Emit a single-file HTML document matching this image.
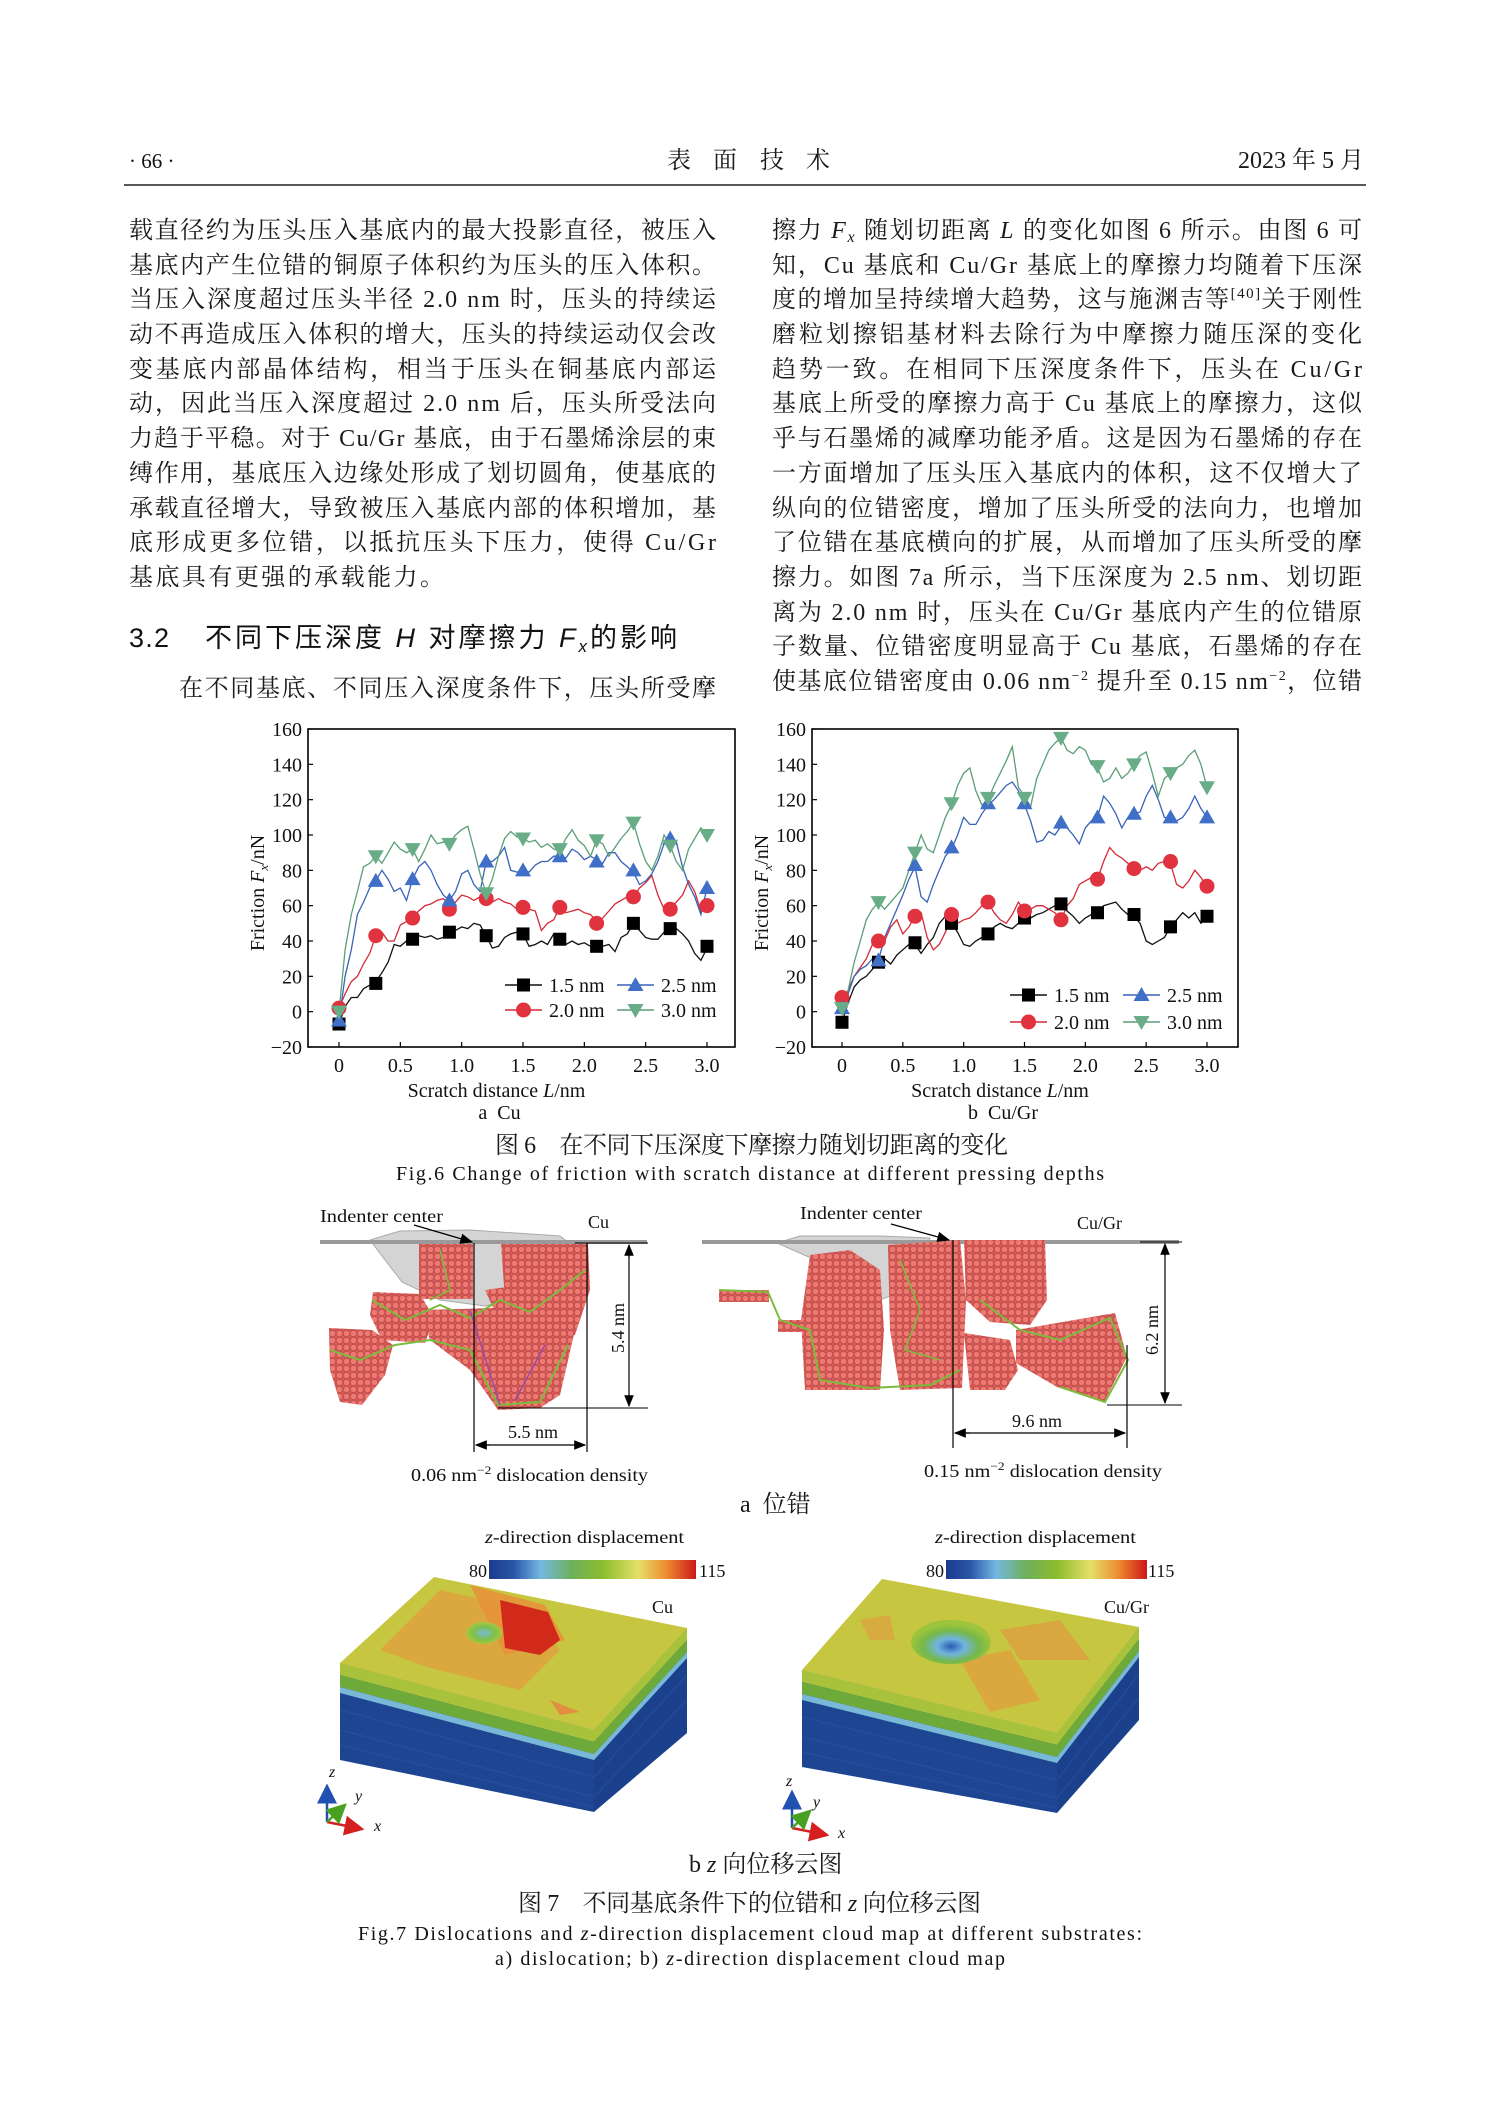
<!DOCTYPE html>
<html><head><meta charset="utf-8">
<style>
html,body{margin:0;padding:0;background:#fff;}
svg{display:block;}
.cn{font-family:"Liberation Serif","Noto Serif CJK SC",serif;font-size:24px;fill:#1a1a1a;}
.en{font-family:"Liberation Serif",serif;fill:#111;}
.hd{font-family:"Liberation Sans","Noto Sans CJK SC",sans-serif;font-size:27px;fill:#111;}
</style></head>
<body>
<svg id="page" width="1489" height="2106" viewBox="0 0 1489 2106" xmlns="http://www.w3.org/2000/svg">
<defs>
<pattern id="atoms" width="7" height="7" patternUnits="userSpaceOnUse">
<rect width="7" height="7" fill="#d65a56"/>
<circle cx="3.5" cy="3.5" r="3.2" fill="#ec7a72" stroke="#b84444" stroke-width="0.6"/>
</pattern>
<linearGradient id="cbar" x1="0" x2="1" y1="0" y2="0">
<stop offset="0" stop-color="#1c3a8e"/><stop offset="0.12" stop-color="#2a56a8"/>
<stop offset="0.25" stop-color="#74b8e2"/><stop offset="0.4" stop-color="#6eb05a"/>
<stop offset="0.55" stop-color="#8cbc2c"/><stop offset="0.72" stop-color="#e4e068"/>
<stop offset="0.86" stop-color="#ee8a30"/><stop offset="1" stop-color="#cc1818"/>
</linearGradient>
<radialGradient id="holeL" cx="0.5" cy="0.5" r="0.5"><stop offset="0" stop-color="#7ab8d8"/><stop offset="0.6" stop-color="#7cc04a"/><stop offset="1" stop-color="#a8c840"/></radialGradient>
<radialGradient id="holeR" cx="0.5" cy="0.6" r="0.5"><stop offset="0" stop-color="#2a5cb0"/><stop offset="0.35" stop-color="#70b4e0"/><stop offset="0.7" stop-color="#74b84a"/><stop offset="1" stop-color="#9cc43c"/></radialGradient>
<marker id="arr" markerWidth="10" markerHeight="10" refX="9" refY="5" orient="auto"><path d="M0,1 L10,5 L0,9 z" fill="#000"/></marker>
<marker id="arrR" markerWidth="8" markerHeight="8" refX="7" refY="4" orient="auto"><path d="M0,0 L8,4 L0,8 z" fill="#d42020"/></marker>
<marker id="arrB" markerWidth="8" markerHeight="8" refX="7" refY="4" orient="auto"><path d="M0,0 L8,4 L0,8 z" fill="#2050b0"/></marker>
<marker id="arrG" markerWidth="8" markerHeight="8" refX="7" refY="4" orient="auto"><path d="M0,0 L8,4 L0,8 z" fill="#48a020"/></marker>
</defs>
<rect width="1489" height="2106" fill="#fff"/>

<g>
<text class="en" x="129" y="168" font-size="21">· 66 ·</text>
<text class="cn" x="667" y="168" font-size="22"><tspan x="667">表</tspan><tspan x="713">面</tspan><tspan x="760">技</tspan><tspan x="806">术</tspan></text>
<text class="cn" x="1364" y="168" font-size="22" text-anchor="end">2023 年 5 月</text>
<line x1="124" y1="185" x2="1366" y2="185" stroke="#222" stroke-width="1.5"/>
</g>

<g>
<text class="cn" x="129" y="238" textLength="587" lengthAdjust="spacing">载直径约为压头压入基底内的最大投影直径，被压入</text>
<text class="cn" x="129" y="273" textLength="587" lengthAdjust="spacing">基底内产生位错的铜原子体积约为压头的压入体积。</text>
<text class="cn" x="129" y="307" textLength="587" lengthAdjust="spacing">当压入深度超过压头半径 2.0 nm 时，压头的持续运</text>
<text class="cn" x="129" y="342" textLength="587" lengthAdjust="spacing">动不再造成压入体积的增大，压头的持续运动仅会改</text>
<text class="cn" x="129" y="377" textLength="587" lengthAdjust="spacing">变基底内部晶体结构，相当于压头在铜基底内部运</text>
<text class="cn" x="129" y="411" textLength="587" lengthAdjust="spacing">动，因此当压入深度超过 2.0 nm 后，压头所受法向</text>
<text class="cn" x="129" y="446" textLength="587" lengthAdjust="spacing">力趋于平稳。对于 Cu/Gr 基底，由于石墨烯涂层的束</text>
<text class="cn" x="129" y="481" textLength="587" lengthAdjust="spacing">缚作用，基底压入边缘处形成了划切圆角，使基底的</text>
<text class="cn" x="129" y="516" textLength="587" lengthAdjust="spacing">承载直径增大，导致被压入基底内部的体积增加，基</text>
<text class="cn" x="129" y="550" textLength="587" lengthAdjust="spacing">底形成更多位错，以抵抗压头下压力，使得 Cu/Gr</text>
<text class="cn" x="129" y="585" textLength="315" lengthAdjust="spacing">基底具有更强的承载能力。</text>
<text class="hd" x="129" y="647" textLength="40" lengthAdjust="spacing">3.2</text>
<text class="hd" x="205" y="647" textLength="472" lengthAdjust="spacing">不同下压深度 <tspan font-style="italic">H</tspan> 对摩擦力 <tspan font-style="italic">F</tspan><tspan font-style="italic" font-size="17" dy="5">x</tspan><tspan dy="-5">的影响</tspan></text>
<text class="cn" x="179" y="696" textLength="537" lengthAdjust="spacing">在不同基底、不同压入深度条件下，压头所受摩</text>
</g>

<g>
<text class="cn" x="772" y="238" textLength="590" lengthAdjust="spacing">擦力 <tspan font-style="italic">F</tspan><tspan font-style="italic" font-size="16" dy="4">x</tspan><tspan dy="-4"> 随划切距离 </tspan><tspan font-style="italic">L</tspan> 的变化如图 6 所示。由图 6 可</text>
<text class="cn" x="772" y="273" textLength="590" lengthAdjust="spacing">知，Cu 基底和 Cu/Gr 基底上的摩擦力均随着下压深</text>
<text class="cn" x="772" y="307" textLength="590" lengthAdjust="spacing">度的增加呈持续增大趋势，这与施渊吉等<tspan font-size="15" dy="-9">[40]</tspan><tspan dy="9">关于刚性</tspan></text>
<text class="cn" x="772" y="342" textLength="590" lengthAdjust="spacing">磨粒划擦铝基材料去除行为中摩擦力随压深的变化</text>
<text class="cn" x="772" y="377" textLength="590" lengthAdjust="spacing">趋势一致。在相同下压深度条件下，压头在 Cu/Gr</text>
<text class="cn" x="772" y="411" textLength="590" lengthAdjust="spacing">基底上所受的摩擦力高于 Cu 基底上的摩擦力，这似</text>
<text class="cn" x="772" y="446" textLength="590" lengthAdjust="spacing">乎与石墨烯的减摩功能矛盾。这是因为石墨烯的存在</text>
<text class="cn" x="772" y="481" textLength="590" lengthAdjust="spacing">一方面增加了压头压入基底内的体积，这不仅增大了</text>
<text class="cn" x="772" y="516" textLength="590" lengthAdjust="spacing">纵向的位错密度，增加了压头所受的法向力，也增加</text>
<text class="cn" x="772" y="550" textLength="590" lengthAdjust="spacing">了位错在基底横向的扩展，从而增加了压头所受的摩</text>
<text class="cn" x="772" y="585" textLength="590" lengthAdjust="spacing">擦力。如图 7a 所示，当下压深度为 2.5 nm、划切距</text>
<text class="cn" x="772" y="620" textLength="590" lengthAdjust="spacing">离为 2.0 nm 时，压头在 Cu/Gr 基底内产生的位错原</text>
<text class="cn" x="772" y="654" textLength="590" lengthAdjust="spacing">子数量、位错密度明显高于 Cu 基底，石墨烯的存在</text>
<text class="cn" x="772" y="689" textLength="590" lengthAdjust="spacing">使基底位错密度由 0.06 nm<tspan font-size="14" dy="-9">−2</tspan><tspan dy="9"> 提升至 0.15 nm</tspan><tspan font-size="14" dy="-9">−2</tspan><tspan dy="9">，位错</tspan></text>
</g>

<g id="chartA"></g>
<g id="chartB"></g>

<text class="cn" x="495" y="1153" font-size="22" textLength="513" lengthAdjust="spacing">图 6　在不同下压深度下摩擦力随划切距离的变化</text>
<text class="en" x="396" y="1180" font-size="20" textLength="708" lengthAdjust="spacing">Fig.6 Change of friction with scratch distance at different pressing depths</text>

<g>
<polygon points="370,1240 400,1231 470,1230 560,1236 578,1250 545,1290 485,1306 440,1300 402,1282 382,1256" fill="#d4d4d4" stroke="#aaa" stroke-width="1"/>
<rect x="320" y="1240" width="327" height="4" fill="#9a9a9a"/>
<rect x="419" y="1244" width="54" height="55" fill="url(#atoms)"/>
<polygon points="501,1244 588,1244 590,1290 575,1335 530,1330 505,1300" fill="url(#atoms)"/>
<polygon points="422,1310 568,1306 575,1330 560,1395 540,1408 498,1410 470,1370 430,1340" fill="url(#atoms)"/>
<polygon points="373,1292 420,1294 434,1318 425,1343 382,1340 370,1315" fill="url(#atoms)"/>
<polygon points="329,1328 372,1330 393,1345 385,1375 362,1405 340,1402 330,1370" fill="url(#atoms)"/>
<polygon points="485,1290 515,1286 520,1305 495,1312" fill="url(#atoms)"/>
<polyline points="372,1300 405,1320 440,1305 470,1318 500,1300 530,1312 560,1290 585,1270" fill="none" stroke="#7cba3c" stroke-width="2"/>
<polyline points="330,1350 360,1360 395,1345 430,1340 470,1350 498,1405 540,1402 568,1345" fill="none" stroke="#7cba3c" stroke-width="2"/>
<polyline points="440,1250 450,1290 430,1300" fill="none" stroke="#7cba3c" stroke-width="1.6"/>
<line x1="470" y1="1310" x2="500" y2="1405" stroke="#9a4aa8" stroke-width="1.5"/>
<line x1="545" y1="1345" x2="515" y2="1400" stroke="#9a4aa8" stroke-width="1.5"/>
<line x1="414" y1="1225" x2="472" y2="1242" stroke="#000" stroke-width="1.3" marker-end="url(#arr)"/>
<line x1="474" y1="1243" x2="474" y2="1452" stroke="#000" stroke-width="1.2"/>
<line x1="587" y1="1243" x2="587" y2="1452" stroke="#000" stroke-width="1.2"/>
<line x1="575" y1="1243" x2="648" y2="1243" stroke="#000" stroke-width="1"/>
<line x1="498" y1="1408" x2="648" y2="1408" stroke="#000" stroke-width="1"/>
<line x1="629" y1="1258" x2="629" y2="1245" stroke="#000" stroke-width="1.2" marker-end="url(#arr)"/>
<line x1="629" y1="1255" x2="629" y2="1406" stroke="#000" stroke-width="1.2" marker-end="url(#arr)"/>
<line x1="490" y1="1445" x2="476" y2="1445" stroke="#000" stroke-width="1.2" marker-end="url(#arr)"/>
<line x1="485" y1="1445" x2="585" y2="1445" stroke="#000" stroke-width="1.2" marker-end="url(#arr)"/>
<text class="en" x="320" y="1222" font-size="18" textLength="123" lengthAdjust="spacingAndGlyphs">Indenter center</text>
<text class="en" x="588" y="1228" font-size="18">Cu</text>
<text class="en" x="533" y="1438" font-size="18" text-anchor="middle">5.5 nm</text>
<text class="en" x="0" y="0" font-size="18" text-anchor="middle" transform="translate(624,1328) rotate(-90)">5.4 nm</text>
<text class="en" x="411" y="1481" font-size="18" textLength="237" lengthAdjust="spacingAndGlyphs">0.06 nm<tspan font-size="12" dy="-7">−2</tspan><tspan dy="7"> dislocation density</tspan></text>
</g>

<g>
<polygon points="777,1243 800,1236 880,1236 930,1238 920,1262 905,1290 880,1300 850,1280 820,1262" fill="#d4d4d4" stroke="#aaa" stroke-width="1"/>
<rect x="702" y="1240" width="477" height="4" fill="#9a9a9a"/>
<rect x="719" y="1290" width="50" height="12" fill="url(#atoms)"/>
<rect x="778" y="1320" width="29" height="12" fill="url(#atoms)"/>
<polygon points="810,1255 850,1250 880,1270 884,1330 880,1390 805,1390 801,1320" fill="url(#atoms)"/>
<polygon points="888,1245 960,1240 966,1300 962,1388 900,1390 890,1330" fill="url(#atoms)"/>
<polygon points="964,1240 1045,1240 1047,1300 1030,1325 990,1322 966,1300" fill="url(#atoms)"/>
<polygon points="1016,1330 1115,1313 1127,1357 1104,1402 1057,1387 1016,1363" fill="url(#atoms)"/>
<polygon points="964,1333 1010,1340 1018,1370 1005,1390 970,1390" fill="url(#atoms)"/>
<polyline points="719,1290 768,1292 780,1320 810,1330 820,1380 870,1388 930,1385 960,1370" fill="none" stroke="#7cba3c" stroke-width="2"/>
<polyline points="980,1300 1020,1330 1060,1340 1110,1318 1128,1360 1105,1402 1060,1387" fill="none" stroke="#7cba3c" stroke-width="2"/>
<polyline points="900,1260 920,1310 905,1350 940,1360" fill="none" stroke="#7cba3c" stroke-width="1.6"/>
<line x1="891" y1="1224" x2="949" y2="1240" stroke="#000" stroke-width="1.3" marker-end="url(#arr)"/>
<line x1="953" y1="1240" x2="953" y2="1448" stroke="#000" stroke-width="1.2"/>
<line x1="1127" y1="1345" x2="1127" y2="1448" stroke="#000" stroke-width="1.2"/>
<line x1="1140" y1="1242" x2="1182" y2="1242" stroke="#000" stroke-width="1"/>
<line x1="1107" y1="1405" x2="1182" y2="1405" stroke="#000" stroke-width="1"/>
<line x1="1165" y1="1256" x2="1165" y2="1244" stroke="#000" stroke-width="1.2" marker-end="url(#arr)"/>
<line x1="1165" y1="1254" x2="1165" y2="1403" stroke="#000" stroke-width="1.2" marker-end="url(#arr)"/>
<line x1="970" y1="1433" x2="955" y2="1433" stroke="#000" stroke-width="1.2" marker-end="url(#arr)"/>
<line x1="965" y1="1433" x2="1125" y2="1433" stroke="#000" stroke-width="1.2" marker-end="url(#arr)"/>
<text class="en" x="800" y="1219" font-size="18" textLength="122" lengthAdjust="spacingAndGlyphs">Indenter center</text>
<text class="en" x="1077" y="1229" font-size="18">Cu/Gr</text>
<text class="en" x="1037" y="1427" font-size="18" text-anchor="middle">9.6 nm</text>
<text class="en" x="0" y="0" font-size="18" text-anchor="middle" transform="translate(1158,1330) rotate(-90)">6.2 nm</text>
<text class="en" x="924" y="1477" font-size="18" textLength="238" lengthAdjust="spacingAndGlyphs">0.15 nm<tspan font-size="12" dy="-7">−2</tspan><tspan dy="7"> dislocation density</tspan></text>
</g>
<text class="cn" x="740" y="1512" font-size="19">a&#160;&#160;位错</text>

<g>
<text class="en" x="485" y="1543" font-size="18" textLength="199" lengthAdjust="spacingAndGlyphs"><tspan font-style="italic">z</tspan>-direction displacement</text>
<rect x="489" y="1560" width="207" height="19" fill="url(#cbar)"/>
<text class="en" x="487" y="1577" font-size="18" text-anchor="end">80</text>
<text class="en" x="699" y="1577" font-size="18">115</text>
</g>
<g>
<text class="en" x="935" y="1543" font-size="18" textLength="201" lengthAdjust="spacingAndGlyphs"><tspan font-style="italic">z</tspan>-direction displacement</text>
<rect x="946" y="1560" width="201" height="19" fill="url(#cbar)"/>
<text class="en" x="944" y="1577" font-size="18" text-anchor="end">80</text>
<text class="en" x="1148" y="1577" font-size="18">115</text>
</g>

<g>
<polygon points="340,1663 594,1730 594,1812 340,1760" fill="#1e4592"/>
<polygon points="594,1730 687,1628 687,1733 594,1812" fill="#1c418c"/>
<g stroke="#2a58a8" stroke-width="1" opacity="0.6">
<line x1="340" y1="1710" x2="594" y2="1777"/><line x1="340" y1="1730" x2="594" y2="1797"/><line x1="340" y1="1745" x2="594" y2="1807"/>
<line x1="594" y1="1777" x2="687" y2="1675"/><line x1="594" y1="1797" x2="687" y2="1700"/>
</g>
<polygon points="340,1663 594,1730 687,1628 687,1640 594,1742 340,1675" fill="#a8c23c"/>
<polygon points="340,1675 594,1742 687,1640 687,1652 594,1754 340,1687" fill="#6eaa3a"/>
<polygon points="340,1687 594,1754 687,1652 687,1658 594,1760 340,1693" fill="#7ab8d8"/>
<polygon points="434,1577 687,1628 594,1730 340,1663" fill="#c6c640"/>
<polygon points="440,1590 530,1610 560,1650 520,1690 430,1668 380,1650" fill="#e0a040" opacity="0.8"/>
<polygon points="470,1585 545,1605 565,1640 505,1655" fill="#e89038" opacity="0.85"/>
<polygon points="500,1600 548,1612 560,1640 540,1655 505,1648" fill="#d22a1a"/>
<ellipse cx="484" cy="1633" rx="18" ry="11" fill="url(#holeL)"/>
<polygon points="550,1700 580,1712 560,1715" fill="#e09040"/>
<text class="en" x="652" y="1613" font-size="18">Cu</text>
</g>
<g>
<polygon points="802,1670 1057,1733 1057,1813 802,1767" fill="#1e4592"/>
<polygon points="1057,1733 1139,1627 1139,1720 1057,1813" fill="#1c418c"/>
<g stroke="#2a58a8" stroke-width="1" opacity="0.6">
<line x1="802" y1="1717" x2="1057" y2="1780"/><line x1="802" y1="1737" x2="1057" y2="1798"/><line x1="802" y1="1752" x2="1057" y2="1808"/>
<line x1="1057" y1="1780" x2="1139" y2="1674"/><line x1="1057" y1="1798" x2="1139" y2="1697"/>
</g>
<polygon points="802,1670 1057,1733 1139,1627 1139,1639 1057,1745 802,1682" fill="#a8c23c"/>
<polygon points="802,1682 1057,1745 1139,1639 1139,1651 1057,1757 802,1694" fill="#6eaa3a"/>
<polygon points="802,1694 1057,1757 1139,1651 1139,1657 1057,1763 802,1700" fill="#7ab8d8"/>
<polygon points="882,1579 1139,1627 1057,1733 802,1670" fill="#c6c640"/>
<polygon points="960,1660 1010,1650 1040,1700 990,1712" fill="#e0a040" opacity="0.8"/>
<polygon points="1000,1630 1060,1620 1090,1660 1020,1660" fill="#e09a40" opacity="0.7"/>
<polygon points="860,1620 890,1615 895,1640 870,1640" fill="#e0a040" opacity="0.7"/>
<ellipse cx="951" cy="1642" rx="40" ry="22" fill="url(#holeR)"/>
<text class="en" x="1104" y="1613" font-size="18">Cu/Gr</text>
</g>
<g>
<line x1="327" y1="1822" x2="327" y2="1786" stroke="#2050b0" stroke-width="2.5" marker-end="url(#arrB)"/>
<line x1="327" y1="1822" x2="362" y2="1829" stroke="#d42020" stroke-width="2.5" marker-end="url(#arrR)"/>
<line x1="327" y1="1822" x2="345" y2="1805" stroke="#48a020" stroke-width="2.5" marker-end="url(#arrG)"/>
<text class="en" x="329" y="1777" font-size="16" font-style="italic" fill="#2050b0">z</text>
<text class="en" x="355" y="1801" font-size="16" font-style="italic" fill="#48a020">y</text>
<text class="en" x="374" y="1831" font-size="16" font-style="italic" fill="#d42020">x</text>
</g>
<g>
<line x1="792" y1="1828" x2="792" y2="1792" stroke="#2050b0" stroke-width="2.5" marker-end="url(#arrB)"/>
<line x1="792" y1="1828" x2="827" y2="1835" stroke="#d42020" stroke-width="2.5" marker-end="url(#arrR)"/>
<line x1="792" y1="1828" x2="810" y2="1811" stroke="#48a020" stroke-width="2.5" marker-end="url(#arrG)"/>
<text class="en" x="786" y="1786" font-size="16" font-style="italic" fill="#2050b0">z</text>
<text class="en" x="813" y="1807" font-size="16" font-style="italic" fill="#48a020">y</text>
<text class="en" x="838" y="1838" font-size="16" font-style="italic" fill="#d42020">x</text>
</g>
<text class="cn" x="689" y="1872" font-size="19">b&#160;<tspan font-style="italic">z</tspan>&#160;向位移云图</text>
<text class="cn" x="518" y="1911" font-size="22" textLength="463" lengthAdjust="spacing">图 7　不同基底条件下的位错和&#160;<tspan font-style="italic">z</tspan>&#160;向位移云图</text>
<text class="en" x="358" y="1940" font-size="20" textLength="784" lengthAdjust="spacing">Fig.7 Dislocations and <tspan font-style="italic">z</tspan>-direction displacement cloud map at different substrates:</text>
<text class="en" x="495" y="1965" font-size="20" textLength="510" lengthAdjust="spacing">a) dislocation; b) <tspan font-style="italic">z</tspan>-direction displacement cloud map</text>
</svg>

<script>
const xs = [0,0.05,0.1,0.15,0.2,0.25,0.3,0.35,0.4,0.45,0.5,0.55,0.6,0.65,0.7,0.75,0.8,0.85,0.9,0.95,1.0,1.05,1.1,1.15,1.2,1.25,1.3,1.35,1.4,1.45,1.5,1.55,1.6,1.65,1.7,1.75,1.8,1.85,1.9,1.95,2.0,2.05,2.1,2.15,2.2,2.25,2.3,2.35,2.4,2.45,2.5,2.55,2.6,2.65,2.7,2.75,2.8,2.85,2.9,2.95,3.0];
const cu15 = [-7,3,8,8,13,15,17,22,28,38,37,40,41,43,42,43,41,42,45,46,48,47,50,49,43,36,37,42,44,45,44,37,38,40,38,44,41,38,40,38,39,37,36,37,38,34,42,44,50,46,42,41,41,45,47,47,44,40,33,29,36];
const cu20 = [2,10,17,20,27,33,43,45,40,40,49,51,53,57,60,61,63,64,60,62,66,65,63,65,63,62,64,62,61,58,59,58,57,46,50,52,59,56,57,58,56,55,51,53,57,61,63,65,65,70,73,77,66,58,58,62,66,74,68,57,60];
const cu25 = [-5,20,35,55,62,70,74,80,75,68,70,63,75,82,85,80,72,66,63,68,78,80,72,68,85,85,88,93,80,79,80,79,83,85,85,88,88,87,92,90,86,88,86,84,90,90,85,82,79,72,74,78,85,95,99,96,82,72,65,55,70];
const cu30 = [0,35,55,68,82,84,88,84,90,96,92,90,92,85,92,100,95,96,95,100,103,105,92,78,67,75,88,98,102,99,98,96,97,93,95,92,91,98,103,97,94,88,97,95,88,93,98,102,107,95,85,80,88,100,94,85,80,92,98,104,100];
const gr15 = [-6,5,14,18,20,24,28,30,27,32,35,38,38,33,38,42,50,54,50,45,38,37,40,42,44,48,50,48,47,50,52,53,55,56,58,60,61,57,54,50,53,55,56,60,61,62,58,55,54,50,40,38,40,42,48,52,56,53,56,50,54];
const gr20 = [8,12,20,25,30,38,42,40,48,52,44,48,54,56,42,35,38,45,54,50,52,53,56,60,62,56,52,50,55,62,57,58,60,60,58,56,52,60,64,72,74,76,75,85,93,89,87,84,81,80,82,80,84,85,84,72,70,74,80,76,71];
const gr25 = [2,10,20,24,26,30,29,42,50,58,66,75,82,65,62,72,80,88,92,100,110,106,106,112,117,120,124,128,130,125,117,108,96,97,102,100,105,104,100,95,104,108,110,122,118,112,104,110,112,113,122,128,120,110,109,108,110,115,122,115,110];
const gr30 = [2,12,28,40,52,58,62,58,62,66,70,80,90,100,92,90,100,110,117,128,135,138,125,117,120,128,135,142,150,127,122,116,132,140,148,152,155,148,146,150,148,140,138,130,132,138,132,135,140,145,147,135,122,132,135,138,140,145,148,140,127];
const markX = [0,0.3,0.6,0.9,1.2,1.5,1.8,2.1,2.4,2.7,3.0];
const cuM15 = [-7,16,41,45,43,44,41,37,50,47,37];
const cuM20 = [2,43,53,58,64,59,59,50,65,58,60];
const cuM25 = [-5,74,75,63,85,80,88,85,80,98,70];
const cuM30 = [0,88,92,95,67,98,92,97,107,94,100];
const grM15 = [-6,28,39,50,44,53,61,56,55,48,54];
const grM20 = [8,40,54,55,62,57,52,75,81,85,71];
const grM25 = [2,29,83,93,118,118,107,110,112,110,110];
const grM30 = [2,62,90,118,121,121,155,139,140,135,127];
const yTicks = [-20,0,20,40,60,80,100,120,140,160];
const yTickLabels = ["\u221220","0","20","40","60","80","100","120","140","160"];
const xTicks = [0,0.5,1.0,1.5,2.0,2.5,3.0];
const xTickLabels = ["0","0.5","1.0","1.5","2.0","2.5","3.0"];
const legendLabels = ["1.5 nm","2.0 nm","2.5 nm","3.0 nm"];
const xMin = 0, xMax = 3, yMin = -20, yMax = 160;

const NS = "http://www.w3.org/2000/svg";
const STY = [
  {line:"#111", fill:"#000", shape:"sq"},
  {line:"#d42a36", fill:"#e0323f", shape:"ci"},
  {line:"#3a62b8", fill:"#3f6fc6", shape:"tu"},
  {line:"#5a9e76", fill:"#68ad88", shape:"td"}
];
function mk(tag, attrs, parent){
  const e = document.createElementNS(NS, tag);
  for (const k in attrs) e.setAttribute(k, attrs[k]);
  parent.appendChild(e);
  return e;
}
function marker(g, shape, cx, cy, fill){
  let e;
  if (shape === "sq") e = mk("rect", {x:cx-6.5, y:cy-6.5, width:13, height:13, fill:fill}, g);
  else if (shape === "ci") e = mk("circle", {cx:cx, cy:cy, r:7.5, fill:fill}, g);
  else if (shape === "tu") e = mk("polygon", {points:`${cx},${cy-8} ${cx-8},${cy+6} ${cx+8},${cy+6}`, fill:fill}, g);
  else e = mk("polygon", {points:`${cx},${cy+8} ${cx-8},${cy-6} ${cx+8},${cy-6}`, fill:fill}, g);
  return e;
}
function drawChart(id, geo, series, marks, title2){
  const g = document.getElementById(id);
  const xS = v => geo.x0 + (v - xMin) / (xMax - xMin) * (geo.x3 - geo.x0);
  const yS = v => geo.bottom - (v - yMin) / (yMax - yMin) * (geo.bottom - geo.top);
  const box = mk("rect", {x:geo.left, y:geo.top, width:geo.right-geo.left, height:geo.bottom-geo.top, fill:"none", stroke:"#000", "stroke-width":1.6}, g);
  
  
  yTicks.forEach((t, i) => {
    const y = yS(t);
    const tk = mk("line", {x1:geo.left, x2:geo.left+5, y1:y, y2:y, stroke:"#000", "stroke-width":1.2}, g);
    
    
    const lb = mk("text", {x:geo.left-6, y:y+7, "text-anchor":"end", "font-size":20, "font-family":"Liberation Serif, serif", fill:"#111"}, g);
    lb.textContent = yTickLabels[i];
    
    
  });
  xTicks.forEach((t, i) => {
    const x = xS(t);
    const tk = mk("line", {x1:x, x2:x, y1:geo.bottom, y2:geo.bottom-5, stroke:"#000", "stroke-width":1.2}, g);
    
    
    const lb = mk("text", {x:x, y:geo.bottom+25, "text-anchor":"middle", "font-size":20, "font-family":"Liberation Serif, serif", fill:"#111"}, g);
    lb.textContent = xTickLabels[i];
    
    
  });
  const xt = mk("text", {x:(geo.left+geo.right)/2-25, y:geo.bottom+50, "text-anchor":"middle", "font-size":20, "font-family":"Liberation Serif, serif", fill:"#111"}, g);
  xt.innerHTML = 'Scratch distance <tspan font-style="italic">L</tspan>/nm';
  
  
  const st = mk("text", {x:(geo.left+geo.right)/2-22, y:geo.bottom+72, "text-anchor":"middle", "font-size":20, "font-family":"Liberation Serif, serif", fill:"#111"}, g);
  st.textContent = title2;
  
  
  const yt = mk("text", {x:0, y:0, "text-anchor":"middle", "font-size":20, "font-family":"Liberation Serif, serif", fill:"#111", transform:`translate(${geo.left-44},${(geo.top+geo.bottom)/2+5}) rotate(-90)`}, g);
  yt.innerHTML = 'Friction <tspan font-style="italic">F</tspan><tspan font-style="italic" font-size="13" dy="4">x</tspan><tspan dy="-4">/nN</tspan>';
  
  
  series.forEach((vals, si) => {
    const pts = vals.map((v, i) => xS(xs[i]).toFixed(1) + "," + yS(v).toFixed(1)).join(" ");
    const pl = mk("polyline", {points:pts, fill:"none", stroke:STY[si].line, "stroke-width":1.3}, g);
    
    
  });
  marks.forEach((vals, si) => {
    vals.forEach((v, i) => {
      const m = marker(g, STY[si].shape, xS(markX[i]), yS(v), STY[si].fill);
      
      
    });
  });
  const order = [[0,0,0],[2,1,0],[1,0,1],[3,1,1]];
  order.forEach(([si, col, row]) => {
    const lx = geo.legX + col * geo.legDX;
    const ly = geo.legY + row * geo.legDY;
    const ln = mk("line", {x1:lx, x2:lx+37, y1:ly, y2:ly, stroke:STY[si].line, "stroke-width":1.4}, g);
    
    
    const mm = marker(g, STY[si].shape, lx+18.5, ly, STY[si].fill);
    
    
    const tx = mk("text", {x:lx+44, y:ly+7, "font-size":20, "font-family":"Liberation Serif, serif", fill:"#111"}, g);
    tx.textContent = legendLabels[si];
    
    
  });
}
drawChart("chartA", {left:308,right:735,top:729,bottom:1047,x0:339,x3:707,legX:505,legY:985,legDX:112,legDY:25}, [cu15,cu20,cu25,cu30], [cuM15,cuM20,cuM25,cuM30], "a\u00a0\u00a0Cu");
drawChart("chartB", {left:812,right:1238,top:729,bottom:1047,x0:842,x3:1207,legX:1010,legY:995,legDX:113,legDY:27}, [gr15,gr20,gr25,gr30], [grM15,grM20,grM25,grM30], "b\u00a0\u00a0Cu/Gr");
</script>
</body></html>
